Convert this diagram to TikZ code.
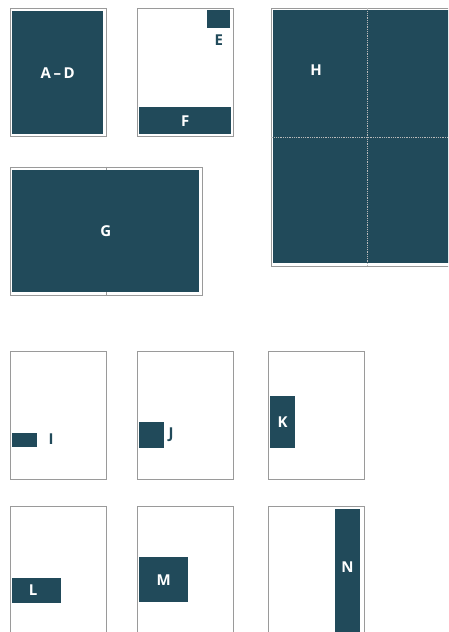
\documentclass[tikz,border=0pt]{standalone}
\usepackage{fontspec}
\setmainfont{Open Sans}
\usepackage{xcolor}
\usetikzlibrary{positioning}

\definecolor{blockteal}{HTML}{214A5A}
\definecolor{pagegray}{HTML}{9A9A9A}

\begin{document}
\begin{tikzpicture}[
    x=1pt, y=-1pt,
    page/.style={draw=pagegray, line width=1pt, fill=white, anchor=north west,
                 inner sep=0pt, minimum width=96pt, minimum height=128pt},
    blk/.style={fill=blockteal, anchor=north west, inner sep=0pt, text=white,
                font=\bfseries\fontsize{15}{17}\selectfont},
    lbl/.style={text=blockteal, inner sep=0pt, font=\bfseries\fontsize{15}{17}\selectfont},
    fold/.style={draw=pagegray, line width=0.8pt},
    crease/.style={draw=gray!55, line width=0.8pt, densely dotted}
]
\useasboundingbox (0,0) rectangle (448,632);
\clip (0,0) rectangle (448,632);

% single pages, top row
\node[page] (pAD) at (9.5,7.5) {};
\node[blk, minimum width=91pt, minimum height=123pt] (AD) at (12,11) {A\,--\,D};

\node[page] (pEF) at (136.5,7.5) {};
\node[blk, minimum width=23pt, minimum height=18pt] (E) at (207,10) {};
\node[lbl, below=6pt of E] (Elbl) {E};
\node[blk, minimum width=92pt, minimum height=27pt] (F) at (139,107) {F};

% spread
\node[page, minimum width=192pt] (pG) at (9.5,166.5) {};
\draw[fold] (pG.north) -- (pG.south);
\node[blk, minimum width=187pt, minimum height=122pt] (G) at (12,170) {G};

% four-page sheet
\node[page, minimum width=192pt, minimum height=258pt] (pH) at (270.5,7.5) {};
\node[blk, minimum width=187pt, minimum height=253pt] (Hbox) at (273,10) {};
\draw[crease] (pH.north) -- (pH.south);
\draw[crease] (pH.west) -- (pH.east);
\node[lbl, text=white] (Hlbl) at (316,70) {H};

% small placements
\node[page] (pI) at (9.5,350.5) {};
\node[blk, minimum width=25pt, minimum height=14pt] (I) at (12,433) {};
\node[lbl, right=11pt of I, yshift=1pt] (Ilbl) {I};

\node[page] (pJ) at (136.5,350.5) {};
\node[blk, minimum width=25pt, minimum height=26pt] (J) at (139,422) {};
\node[lbl, right=4pt of J] (Jlbl) {J};

\node[page] (pK) at (267.5,350.5) {};
\node[blk, minimum width=25pt, minimum height=52pt] (K) at (270,396) {K};

\node[page] (pL) at (9.5,505.5) {};
\node[blk, minimum width=49pt, minimum height=25pt] (L) at (12,578) {};
\node[lbl, text=white] (Llbl) at (33,590) {L};

\node[page] (pM) at (136.5,505.5) {};
\node[blk, minimum width=49pt, minimum height=45pt] (M) at (139,557) {M};

\node[page] (pN) at (267.5,505.5) {};
\node[blk, minimum width=25pt, minimum height=125pt] (N) at (335,509) {};
\node[lbl, text=white] (Nlbl) at (347.5,567) {N};
\end{tikzpicture}
\end{document}
